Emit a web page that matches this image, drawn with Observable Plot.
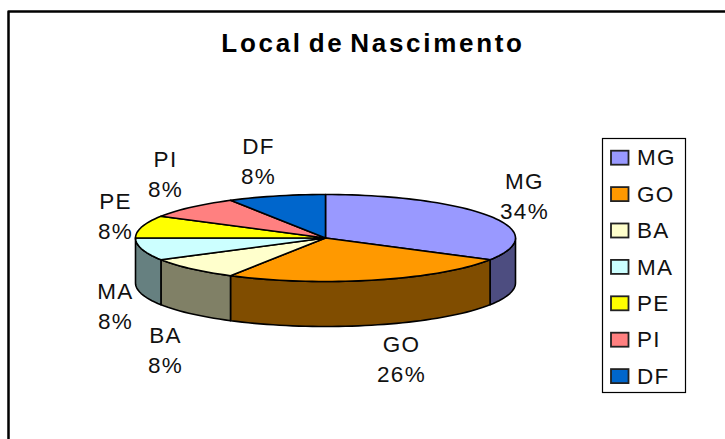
<!DOCTYPE html>
<html>
<head>
<meta charset="utf-8">
<script src="https://cdn.jsdelivr.net/npm/d3@7"></script>
<script src="https://cdn.jsdelivr.net/npm/@observablehq/plot@0.6"></script>
<style>html,body{margin:0;padding:0;background:#fff}svg{display:block}</style>
</head>
<body>
<div id="chart"></div>
<script>
const chartTitle = "Local de Nascimento";
const categories = ["MG", "GO", "BA", "MA", "PE", "PI", "DF"];
const values = [8, 6, 2, 2, 2, 2, 2];
const percentLabels = ["34%", "26%", "8%", "8%", "8%", "8%", "8%"];
const topColors = ["#9999FF", "#FF9900", "#FFFFCC", "#CCFFFF", "#FFFF00", "#FF8080", "#0066CC"];
const sideColors = ["#4D4D80", "#804D00", "#808066", "#668080", "#808000", "#804040", "#003366"];
const labelAnchors = [[524, 181, 211], [401, 344, 374], [165, 335, 365], [115, 291, 321], [115, 201, 231], [165, 159, 189], [258, 146, 176]];

const W = 725, H = 439;
const cx = 325, cy = 237.5, rx = 190, ry = 43.5, depth = 45;
const total = d3.sum(values);
const pt = (deg, dy = 0) => {
  const a = deg * Math.PI / 180;
  return {x: cx + rx * Math.sin(a), y: cy - ry * Math.cos(a) + dy};
};
let acc = 0;
const slices = categories.map((c, i) => {
  const a0 = acc / total * 360;
  acc += values[i];
  return {c, i, a0, a1: acc / total * 360};
});
const arc = (a0, a1, dy = 0) => {
  const out = [];
  const n = Math.max(2, Math.ceil((a1 - a0) / 2));
  for (let k = 0; k <= n; k++) out.push(pt(a0 + (a1 - a0) * k / n, dy));
  return out;
};
const topPts = slices.flatMap(s =>
  [{x: cx, y: cy}, ...arc(s.a0, s.a1), {x: cx, y: cy}].map(p => ({...p, c: s.c, i: s.i})));
const sidePts = slices.flatMap(s => {
  const a0 = Math.max(s.a0, 90), a1 = Math.min(s.a1, 270);
  if (a1 <= a0) return [];
  return [...arc(a0, a1), ...arc(a0, a1, depth).reverse(), pt(a0)].map(p => ({...p, c: s.c, i: s.i}));
});

const legendRows = categories.map((c, i) => ({c, i, y: 157.7 + i * 36.4}));
const frame = [{x: 8, y: 439}, {x: 8, y: 11}, {x: 725, y: 11}];

const lines = labelAnchors.flatMap((a, i) => [
  {x: a[0], y: a[1], t: categories[i]},
  {x: a[0], y: a[2], t: percentLabels[i]}
]);

const chart = Plot.plot({
  width: W, height: H, margin: 0,
  style: {background: "#fff", fontFamily: "'Liberation Sans', Arial, sans-serif"},
  x: {domain: [0, W], range: [0, W], axis: null},
  y: {domain: [0, H], range: [0, H], axis: null},
  marks: [
    Plot.line(frame, {x: "x", y: "y", stroke: "#000", strokeWidth: 2.5, curve: "linear"}),
    Plot.line(sidePts, {x: "x", y: "y", z: "i", fill: d => sideColors[d.i], stroke: "#000", strokeWidth: 1.6, curve: "linear"}),
    Plot.line(topPts, {x: "x", y: "y", z: "i", fill: d => topColors[d.i], stroke: "#000", strokeWidth: 1.6, curve: "linear", strokeLinejoin: "round"}),
    Plot.text(lines, {x: "x", y: "y", text: "t", fontSize: 22.5, fill: "#111", textAnchor: "middle", lineAnchor: "middle", className: "spaced"}),
    Plot.text([chartTitle], {x: () => 372.5, y: () => 43, text: d => d, fontSize: 26, fontWeight: "bold", fill: "#000", textAnchor: "middle", lineAnchor: "middle", className: "titled"}),
    Plot.rect([chartTitle], {x1: () => 602.5, x2: () => 685.5, y1: () => 138.5, y2: () => 392.5, fill: "#fff", stroke: "#000", strokeWidth: 1.2}),
    Plot.rect(legendRows, {x1: () => 611, x2: () => 628.5, y1: d => d.y - 7, y2: d => d.y + 7, fill: d => topColors[d.i], stroke: "#222", strokeWidth: 1.8}),
    Plot.text(legendRows, {x: () => 636.5, y: "y", text: "c", fontSize: 22.5, fill: "#111", textAnchor: "start", lineAnchor: "middle", className: "spaced"})
  ]
});
chart.querySelectorAll(".spaced text").forEach(t => t.style.letterSpacing = "1.3px");
chart.querySelectorAll(".titled text").forEach(t => { t.style.letterSpacing = "2.7px"; t.style.wordSpacing = "-4px"; });
document.getElementById("chart").appendChild(chart);
</script>
</body>
</html>
